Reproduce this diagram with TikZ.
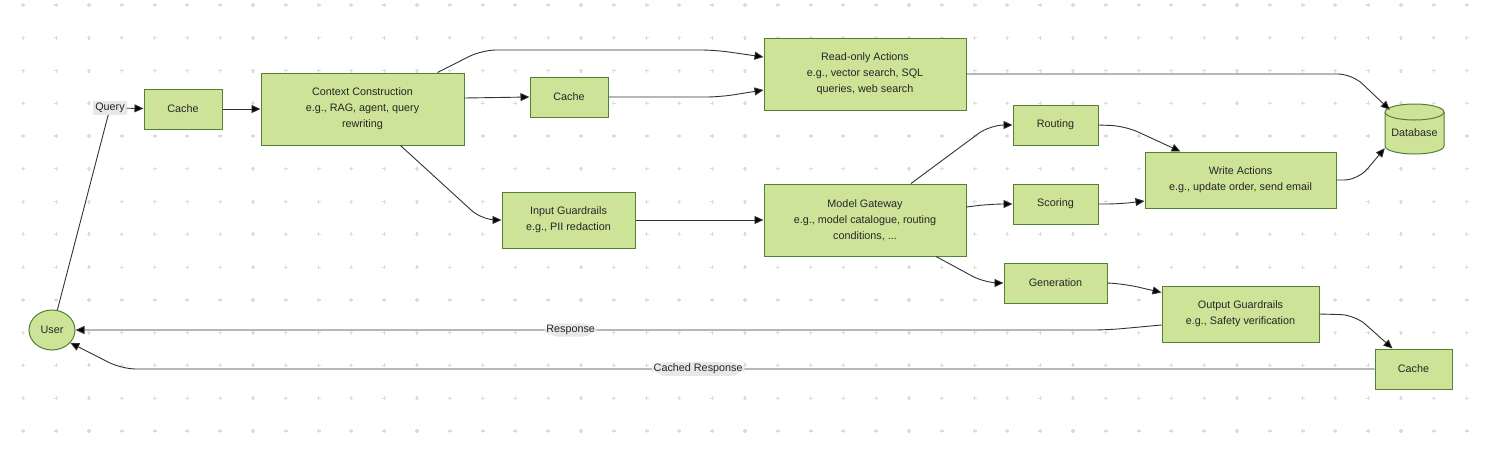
\documentclass[tikz,border=0pt]{standalone}
\usepackage{fontspec}
\setmainfont{Liberation Sans}
\usetikzlibrary{arrows.meta,shapes.geometric}
\definecolor{boxfill}{RGB}{205,227,152}
\definecolor{boxline}{RGB}{84,128,50}
\definecolor{gridgray}{RGB}{220,220,220}
\definecolor{lblgray}{RGB}{232,232,232}
\definecolor{linegray}{RGB}{51,51,51}

\begin{document}
\begin{tikzpicture}[x=1pt,y=-1pt,>={Triangle[length=9pt,width=8pt,fill=black]},
  every node/.style={font=\fontsize{10.8}{16}\selectfont,text=black!85}]
\tikzstyle{box}=[draw=boxline,fill=boxfill,line width=1pt,align=center,inner sep=2pt];
\tikzstyle{lbl}=[fill=lblgray,inner sep=1.8pt];
\tikzstyle{link}=[draw=linegray,line width=0.9pt,rounded corners=14pt];
\fill[white] (0,0) rectangle (1498,448);
\useasboundingbox (0,0) rectangle (1498,448);
% background dots
\foreach \i in {0,...,44}
  \foreach \j in {0,...,13}
    \draw[gridgray,line width=1.2pt] (23.3+32.8*\i-2,5+32.77*\j) -- ++(4,0)
      (23.3+32.8*\i,5+32.77*\j-2) -- ++(0,4);
% database drum
\filldraw[draw=boxline,fill=boxfill,line width=1pt] (1385,112) -- (1385,146)
  arc[start angle=180,end angle=360,x radius=29.5pt,y radius=8pt] -- (1444,112)
  arc[start angle=0,end angle=180,x radius=29.5pt,y radius=8pt] -- cycle;
\draw[boxline,line width=1pt] (1385,112) arc[start angle=180,end angle=360,x radius=29.5pt,y radius=8pt];
\node (DB) at (1414.5,133) [minimum width=59pt,minimum height=42pt,inner sep=0pt] {Database};
% nodes
\node (U) at (52,330) [box,ellipse,inner sep=0pt,minimum width=46pt,minimum height=40pt] {User};
\node (QL) at (110,108) [lbl] {Query};
\node (C1) at (183,109) [box,minimum width=78pt,minimum height=40pt] {Cache};
\node (CC) at (362.5,109) [box,minimum width=203pt,minimum height=72pt] {Context Construction\\e.g., RAG, agent, query\\rewriting};
\node (C2) at (569,97) [box,minimum width=78pt,minimum height=40pt] {Cache};
\node (RA) at (865,74) [box,minimum width=202pt,minimum height=72pt] {Read-only Actions\\e.g., vector search, SQL\\queries, web search};
\node (IG) at (568.5,220) [box,minimum width=133pt,minimum height=56pt] {Input Guardrails\\e.g., PII redaction};
\node (MG) at (865,220) [box,minimum width=202pt,minimum height=72pt] {Model Gateway\\e.g., model catalogue, routing\\conditions, ...};
\node (R) at (1055.5,125) [box,minimum width=85pt,minimum height=40pt] {Routing};
\node (S) at (1055.5,204) [box,minimum width=85pt,minimum height=40pt] {Scoring};
\node (G) at (1055.5,283) [box,minimum width=103pt,minimum height=40pt] {Generation};
\node (WA) at (1240.5,180) [box,minimum width=191pt,minimum height=56pt] {Write Actions\\e.g., update order, send email};
\node (OG) at (1240.5,314) [box,minimum width=157pt,minimum height=56pt] {Output Guardrails\\e.g., Safety verification};
\node (C3) at (1413.5,369) [box,minimum width=77pt,minimum height=40pt] {Cache};
% connectors
\tikzstyle{every path}=[->];
\draw[link,-] (U.75) -- (QL);
\draw[link] (QL) -- (C1);
\draw[link] (C1) -- (CC);
\draw[link] ([xshift=75pt]CC.north) -- (482,50) -- (715,50) -- ([yshift=17pt]RA.west);
\draw[link] ([yshift=11pt]CC.east) -- (C2.west);
\draw[link] (C2.east) -- (720,97) -- ([yshift=-16pt]RA.west);
\draw[link] (RA.east) -- (1352,74) -- ([xshift=5pt,yshift=2pt]DB.north west);
\draw[link] ([xshift=46pt]MG.north) -- (990,125) -- (R.west);
\draw[link] ([yshift=13pt]MG.east) -- (990,204) -- (S.west);
\draw[link] ([xshift=71pt]MG.south) -- (985,283) -- (G.west);
\draw[link] (CC.south) ++(38pt,0) -- (482,220) -- (IG.west);
\draw[link] (IG) -- (MG);
\draw[link] (R.east) -- (1125,126) -- ([xshift=-60pt]WA.north);
\draw[link] (S.east) -- (1120,204) -- ([yshift=-21pt]WA.west);
\draw[link] (WA.east) -- (1358,180) -- ([yshift=6pt]DB.south west);
\draw[link] (G.east) -- (1125,284) -- ([yshift=-7pt]OG.north west);
\draw[link] ([yshift=-11pt]OG.west) -- (1107,330) -- node[lbl,pos=0.52] {Response} (U.east);
\draw[link] (OG.east) -- (1355,315) -- ([xshift=-21pt]C3.north);
\draw[link] (C3.west) -- node[lbl,pos=0.54] {Cached Response} (122,369) -- (U.-35);
\end{tikzpicture}
\end{document}
